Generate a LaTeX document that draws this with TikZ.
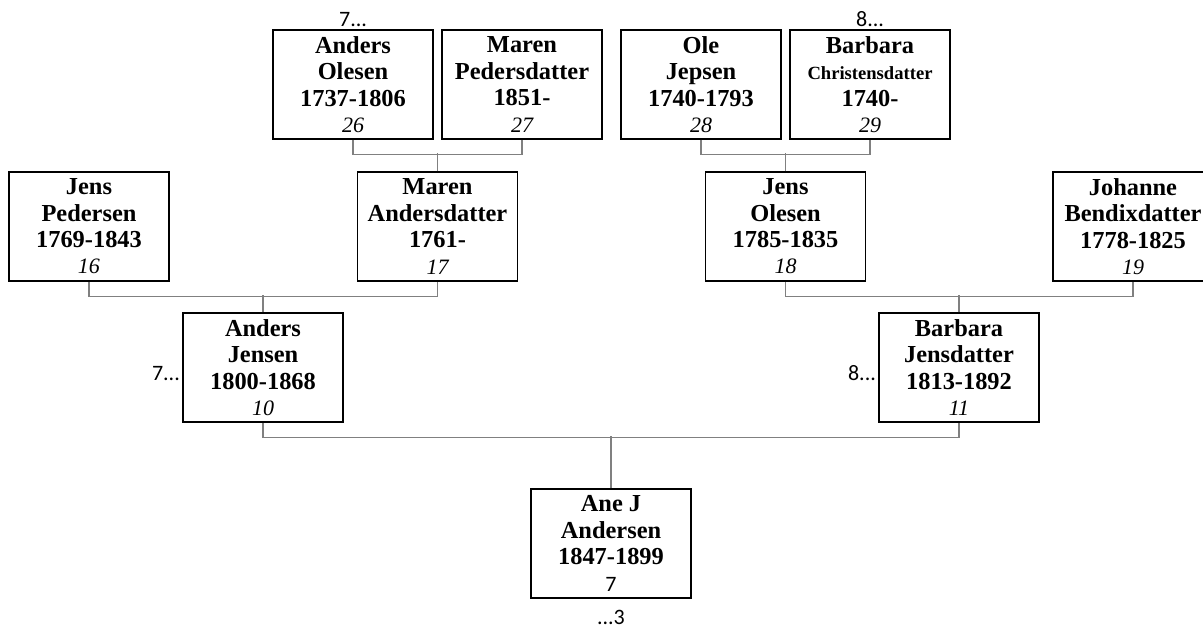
\documentclass[tikz,border=0pt]{standalone}
\usepackage{fontspec}
\setmainfont{Liberation Serif}
\newfontfamily\calibri{Carlito}
\tikzset{
  person/.style={draw, line width=0.75pt, minimum width=80pt, minimum height=54.5pt,
    inner sep=1pt, align=center, font=\fontsize{12.2}{13.2}\selectfont\bfseries},
  link/.style={draw=gray, line width=0.6pt},
  more/.style={font=\calibri\fontsize{11}{12}\selectfont, inner sep=1pt}
}
\newcommand{\gen}[1]{{\fontsize{11}{13}\selectfont\mdseries\itshape #1}}
\begin{document}
\begin{tikzpicture}[x=0.5pt,y=-0.5pt]
    \useasboundingbox (0,0) rectangle (1203,628);
    % great-grandparents
    \node[person] (ao) at (353,84.5) {Anders\\Olesen\\1737-1806\\\gen{26}};
    \node[person] (mp) at (522,84.5) {Maren\\Pedersdatter\\1851-\\\gen{27}};
    \node[person] (oj) at (701,84.5) {Ole\\Jepsen\\1740-1793\\\gen{28}};
    \node[person] (bc) at (870,84.5) {Barbara\\{\fontsize{9.3}{13.2}\selectfont Christensdatter}\\1740-\\\gen{29}};
    % grandparents
    \node[person] (jp) at (89,226.5) {Jens\\Pedersen\\1769-1843\\\gen{16}};
    \node[person] (ma) at (437.5,226.5) {Maren\\Andersdatter\\1761-\\\gen{17}};
    \node[person] (jo) at (785.5,226.5) {Jens\\Olesen\\1785-1835\\\gen{18}};
    \node[person] (jb) at (1133,226.5) {Johanne\\Bendixdatter\\1778-1825\\\gen{19}};
    % parents
    \node[person] (aj) at (263,367.5) {Anders\\Jensen\\1800-1868\\\gen{10}};
    \node[person] (bj) at (959,367.5) {Barbara\\Jensdatter\\1813-1892\\\gen{11}};
    % root
    \node[person] (ane) at (611,543.5) {Ane J\\Andersen\\1847-1899\\{\calibri\mdseries\fontsize{11}{13}\selectfont 7}};
    % continuation marks
    \node[more,anchor=south] (ao7) at (ao.north) {7...};
    \node[more,anchor=south] (bc8) at (bc.north) {8...};
    \node[more,anchor=east] (aj7) at ([yshift=-3pt]aj.west) {7...};
    \node[more,anchor=east] (bj8) at ([yshift=-3pt]bj.west) {8...};
    \node[more,anchor=north] (ane3) at ([yshift=-4.5pt]ane.south) {...3};
    % family lines
    \draw[link] (ao.south) -- ++(0,15) -| (mp.south);
    \draw[link] (ma.north) -- ++(0,-18);
    \draw[link] (oj.south) -- ++(0,15) -| (bc.south);
    \draw[link] (jo.north) -- ++(0,-18);
    \draw[link] (jp.south) -- ++(0,15) -| (ma.south);
    \draw[link] (aj.north) -- ++(0,-17);
    \draw[link] (jo.south) -- ++(0,15) -| (jb.south);
    \draw[link] (bj.north) -- ++(0,-17);
    \draw[link] (aj.south) -- ++(0,15) -| (bj.south);
    \draw[link] (ane.north) -- ++(0,-52);
\end{tikzpicture}
\end{document}
